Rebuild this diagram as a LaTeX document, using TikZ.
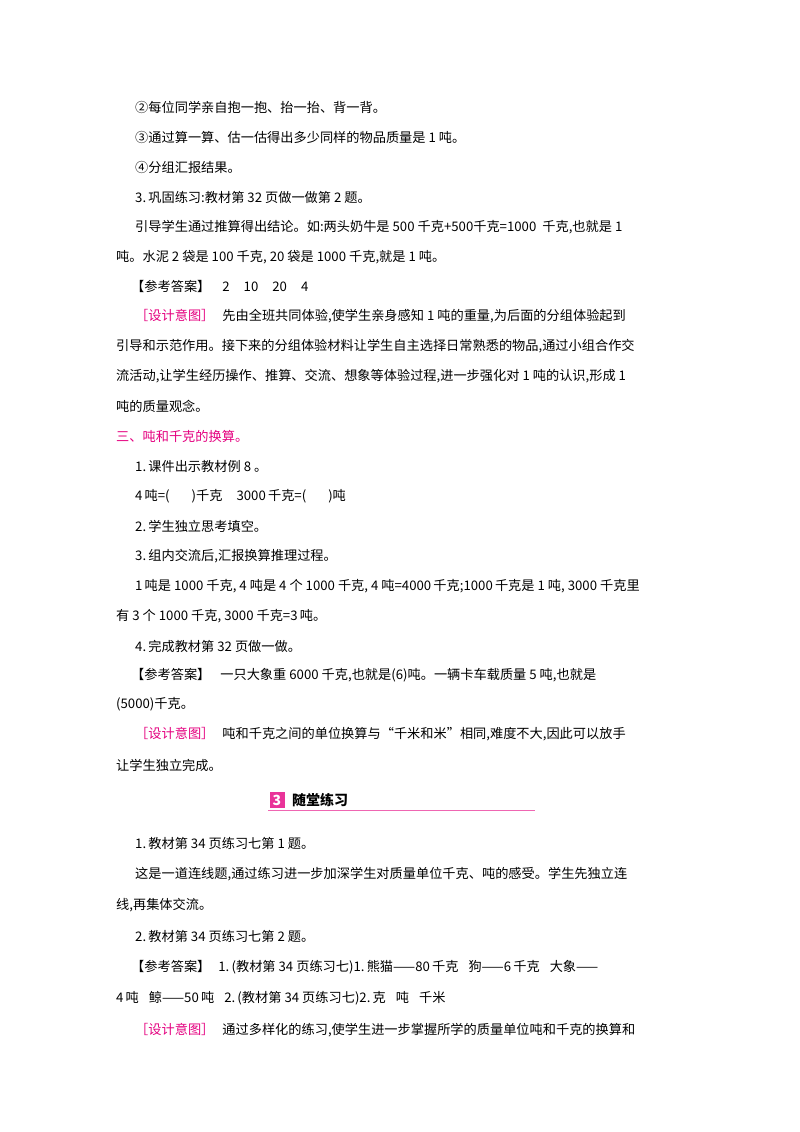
\documentclass[tikz,border=0pt]{standalone}
\usepackage{fontspec}
\setmainfont{Noto Sans CJK SC}
\definecolor{pk}{HTML}{E4007F}
\newcommand\nm[1]{\hspace{3pt}#1\hspace{3pt}}
\begin{document}
\begin{tikzpicture}[x=1pt,y=-1pt,
  t/.style={anchor=west,inner sep=0pt,font=\fontsize{13.2}{14}\selectfont},
  pkc/.style={text=pk}]
\useasboundingbox (0,0) rectangle (800,1132);
\node[t] (l1) at (135,107) {②每位同学亲自抱一抱、抬一抬、背一背。};
\node[t] (l2) at (135,137) {③通过算一算、估一估得出多少同样的物品质量是\nm{1}吨。};
\node[t] (l3) at (135,167) {④分组汇报结果。};
\node[t] (l4) at (135,197) {3.\,巩固练习:教材第\nm{32}页做一做第\nm{2}题。};
\node[t] (l5) at (135,227) {引导学生通过推算得出结论。如:两头奶牛是\nm{500}千克+500千克=1000\nm{}千克,也就是\nm{1}};
\node[t] (l6) at (116,257) {吨。水泥\nm{2}袋是\nm{100}千克,\nm{20}袋是\nm{1000}千克,就是\nm{1}吨。};
\node[t] (l7) at (131,286) {【参考答案】\hspace{12pt}2\hspace{14pt}10\hspace{14pt}20\hspace{14pt}4};
\node[t] (l8) at (135,316) {\textcolor{pk}{［设计意图］}\hspace{8pt}先由全班共同体验,使学生亲身感知\nm{1}吨的重量,为后面的分组体验起到};
\node[t] (l9) at (116,346) {引导和示范作用。接下来的分组体验材料让学生自主选择日常熟悉的物品,通过小组合作交};
\node[t] (l10) at (116,376) {流活动,让学生经历操作、推算、交流、想象等体验过程,进一步强化对\nm{1}吨的认识,形成\nm{1}};
\node[t] (l11) at (116,406) {吨的质量观念。};
\node[t,pkc] (l12) at (116,436) {三、吨和千克的换算。};
\node[t] (l13) at (135,466) {1.\,课件出示教材例\nm{8}。};
\node[t] (l14) at (135,496) {4\,吨=(\hspace{22pt})千克\hspace{14pt}3000\,千克=(\hspace{22pt})吨};
\node[t] (l15) at (135,526) {2.\,学生独立思考填空。};
\node[t] (l16) at (135,556) {3.\,组内交流后,汇报换算推理过程。};
\node[t] (l17) at (135,586) {1\,吨是\nm{1000}千克,\nm{4}吨是\nm{4}个\nm{1000}千克,\nm{4}吨=4000\,千克;1000\,千克是\nm{1}吨,\nm{3000}千克里};
\node[t] (l18) at (116,616) {有\nm{3}个\nm{1000}千克,\nm{3000}千克=3\,吨。};
\node[t] (l19) at (135,646) {4.\,完成教材第\nm{32}页做一做。};
\node[t] (l20) at (131,675) {【参考答案】\hspace{10pt}一只大象重\nm{6000}千克,也就是(6)吨。一辆卡车载质量\nm{5}吨,也就是};
\node[t] (l21) at (116,704) {(5000)千克。};
\node[t] (l22) at (135,734) {\textcolor{pk}{［设计意图］}\hspace{8pt}吨和千克之间的单位换算与“千米和米”相同,难度不大,因此可以放手};
\node[t] (l23) at (116,765) {让学生独立完成。};
% header
\draw[pk!60,line width=1pt] (268,810) -- (535,810);
\node[fill=pk!80,minimum width=15pt,minimum height=16pt,inner sep=0pt,text=white,font=\bfseries\itshape\fontsize{14}{14}\selectfont] (hb) at (277,800) {3};
\node[t,font=\bfseries\fontsize{14}{14}\selectfont] (ht) at (292,800) {随堂练习};
\node[t] (m1) at (135,843) {1.\,教材第\nm{34}页练习七第\nm{1}题。};
\node[t] (m2) at (135,874) {这是一道连线题,通过练习进一步加深学生对质量单位千克、吨的感受。学生先独立连};
\node[t] (m3) at (116,905) {线,再集体交流。};
\node[t] (m4) at (135,936) {2.\,教材第\nm{34}页练习七第\nm{2}题。};
\node[t] (m5) at (131,967) {【参考答案】\hspace{8pt}1.\,(教材第\nm{34}页练习七)1.\,熊猫——80\,千克\hspace{10pt}狗——6\,千克\hspace{10pt}大象——};
\node[t] (m6) at (116,998) {4\,吨\hspace{10pt}鲸——50\,吨\hspace{10pt}2.\,(教材第\nm{34}页练习七)2.\,克\hspace{10pt}吨\hspace{10pt}千米};
\node[t] (m7) at (135,1030) {\textcolor{pk}{［设计意图］}\hspace{8pt}通过多样化的练习,使学生进一步掌握所学的质量单位吨和千克的换算和};
\end{tikzpicture}
\end{document}
